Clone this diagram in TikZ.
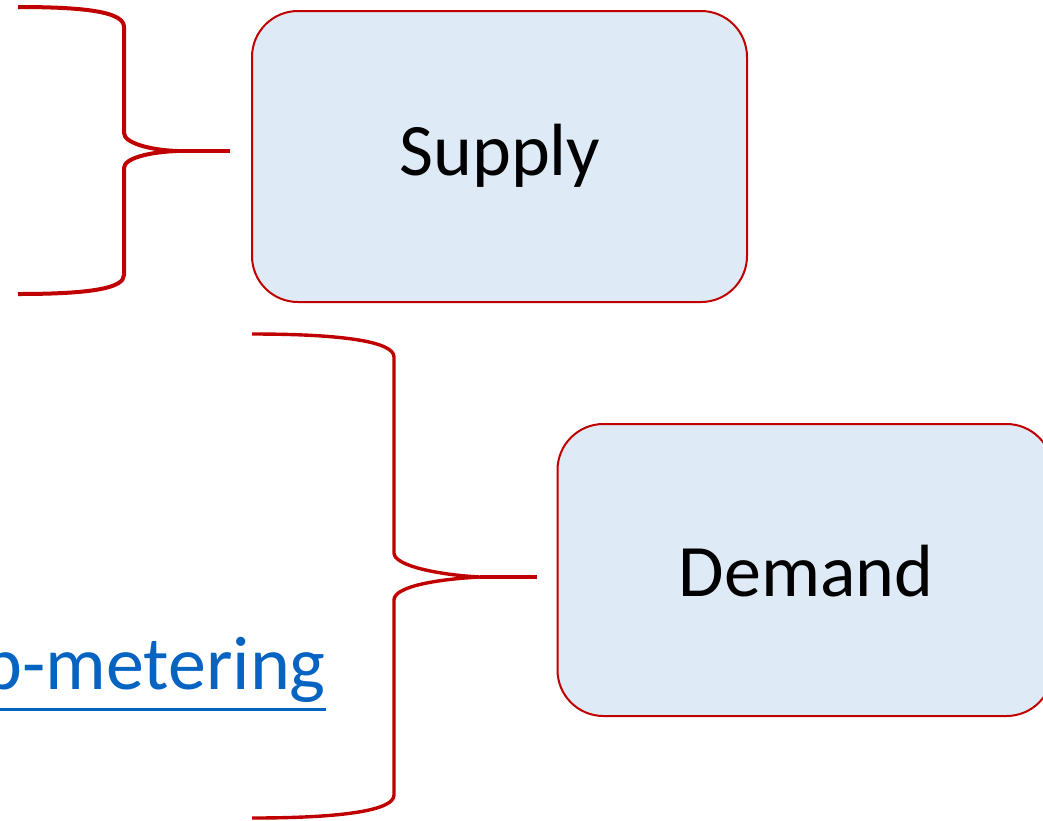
\documentclass[tikz,border=0pt]{standalone}
\usepackage{fontspec}
\setmainfont{Carlito}
\definecolor{bracered}{HTML}{C00000}
\definecolor{boxfill}{HTML}{DEEAF6}
\definecolor{linkblue}{HTML}{0563C1}
\tikzset{
  box/.style={draw=bracered, line width=2pt, fill=boxfill, rounded corners=46pt, minimum width=495pt, minimum height=291pt, inner sep=0pt},
  lbl/.style={font=\fontsize{74}{88}\selectfont, inner sep=0pt, text=black},
  linklbl/.style={font=\fontsize{76}{90}\selectfont, inner sep=0pt, text=linkblue},
  bracepath/.style={draw=bracered, line cap=butt, line join=round},
}
\begin{document}
\begin{tikzpicture}[x=1pt,y=-1pt]
\useasboundingbox (0,0) rectangle (1043,820);
\clip (0,0) rectangle (1043,820);
% boxes
\node[box] (supply) at (499.5,156.5) {};
\node[lbl, anchor=base] (supplytxt) at (500,175) {Supply};
\node[box, minimum height=292pt] (demand) at (805,570) {};
\node[lbl, anchor=base] (demandtxt) at (806,596) {Demand};
% link text
\node[linklbl, anchor=base east] (link) at (326,689) {Sub-metering};
\draw[linkblue, line width=3pt] ([yshift=-20pt]link.base west) -- ([yshift=-20pt]link.base east);
% brace 1
\coordinate (b1tip) at (177,151);
\coordinate (b1end) at (230,151);
\draw[bracepath, line width=4pt] (18,7) .. controls (92,7) and (124,13) .. (124,27) -- (124,133)
  .. controls (124,143) and (150,150) .. (b1tip)
  .. controls (150,152) and (124,158) .. (124,168) -- (124,275)
  .. controls (124,288) and (92,294) .. (18,294);
\draw[bracepath, line width=4pt] (b1tip) -- (b1end);
% brace 2
\coordinate (b2tip) at (480,577);
\coordinate (b2end) at (537,577);
\draw[bracepath, line width=3.4pt] (252,334) .. controls (345,334) and (394,342) .. (394,357) -- (394,553)
  .. controls (394,566) and (440,575) .. (b2tip)
  .. controls (440,579) and (394,586) .. (394,600) -- (394,795)
  .. controls (394,810) and (345,818) .. (252,818);
\draw[bracepath, line width=3.4pt] (b2tip) -- (b2end);
\end{tikzpicture}
\end{document}
